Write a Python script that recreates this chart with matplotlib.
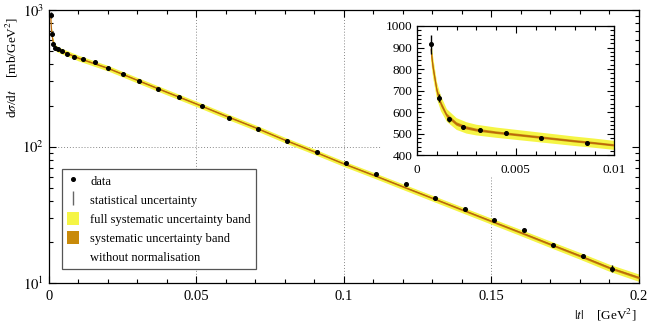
import matplotlib
matplotlib.use("Agg")
from matplotlib import pyplot as plt
from matplotlib.lines import Line2D
from matplotlib.patches import Patch
from matplotlib.ticker import MultipleLocator, FixedLocator, NullFormatter
import numpy as np

plt.rcParams["font.family"] = ["Liberation Serif", "DejaVu Serif"]
plt.rcParams["mathtext.fontset"] = "stix"
plt.rcParams["font.size"] = 9

# measured points: |t| [GeV^2], dsigma/dt [mb/GeV^2], statistical uncertainty
t_data = [0.0007, 0.0011, 0.0016, 0.0023, 0.0032, 0.0045, 0.0063, 0.0086,
          0.0116, 0.0157, 0.0200, 0.0251, 0.0306, 0.0369, 0.0442, 0.0521,
          0.0611, 0.0710, 0.0809, 0.0908, 0.1008, 0.1108, 0.1209, 0.1309,
          0.1409, 0.1508, 0.1609, 0.1710, 0.1810, 0.1909]
xs_data = [915, 667, 567, 531, 517, 503, 480, 456,
           440, 414, 376, 338, 304, 265, 232, 199,
           163, 134, 110, 91.8, 75.5, 62.8, 53.3, 42.1,
           35.0, 28.9, 24.5, 19.1, 15.9, 12.8]
stat_err = [45, 18, 12, 10, 8, 7, 7, 7,
            6, 5, 5, 4, 4, 3, 3, 2.5,
            2, 1.8, 1.5, 1.2, 1.0, 0.9, 0.8, 0.7,
            0.6, 0.5, 0.5, 0.5, 0.6, 0.75]

# fitted curve, with relative band half-widths
t_fit = [0.0007, 0.0008, 0.0010, 0.0012, 0.0015, 0.0020, 0.0025,
         0.0030, 0.0040, 0.0050, 0.0060, 0.0070, 0.0080, 0.0090, 0.0100,
         0.0200, 0.0300, 0.0400, 0.0500, 0.0600, 0.0700, 0.0800, 0.0900,
         0.1000, 0.1100, 0.1200, 0.1300, 0.1400, 0.1500, 0.1600, 0.1700,
         0.1800, 0.1900, 0.2000]
xs_fit = [890, 810, 700, 640, 585, 545, 527,
          517, 505, 495, 485, 475, 465, 456, 446,
          376, 307, 251, 206, 168, 138, 112, 92,
          75, 62, 51, 42, 34.6, 28.5, 23.5, 19.3,
          15.9, 13.0, 11.0]
full_sys = [0.06, 0.06, 0.055, 0.055, 0.05, 0.05, 0.05,
            0.048, 0.047, 0.047, 0.047, 0.047, 0.047, 0.047, 0.047,
            0.046, 0.046, 0.046, 0.046, 0.046, 0.046, 0.046, 0.046,
            0.046, 0.047, 0.048, 0.049, 0.05, 0.051, 0.053, 0.055,
            0.057, 0.059, 0.062]
sys_nonorm = [0.03, 0.025, 0.02, 0.018, 0.016, 0.015, 0.014,
              0.013, 0.012, 0.012, 0.012, 0.012, 0.012, 0.012, 0.012,
              0.012, 0.012, 0.012, 0.012, 0.012, 0.012, 0.012, 0.012,
              0.012, 0.013, 0.013, 0.014, 0.015, 0.016, 0.017, 0.018,
              0.019, 0.02, 0.021]

yellow = "#f5f545"
orange = "#c88a0a"
line_col = "#b8620e"

t_fit = np.array(t_fit)
xs_fit = np.array(xs_fit)
full_sys = np.array(full_sys)
sys_nonorm = np.array(sys_nonorm)


def draw(ax):
    ax.fill_between(t_fit, xs_fit * (1 - full_sys), xs_fit * (1 + full_sys),
                    color=yellow, lw=0, zorder=2)
    ax.fill_between(t_fit, xs_fit * (1 - sys_nonorm), xs_fit * (1 + sys_nonorm),
                    color=orange, lw=0, zorder=3)
    ax.plot(t_fit, xs_fit, color=line_col, lw=0.8, zorder=4)
    ax.errorbar(t_data, xs_data, yerr=stat_err, fmt="o", color="black",
                ms=2.6, elinewidth=1.0, capsize=0, zorder=5)


def style(ax, size):
    ax.tick_params(which="both", direction="in", top=True, right=True,
                   labelsize=size)
    ax.tick_params(which="major", length=5, width=0.8)
    ax.tick_params(which="minor", length=3, width=0.8)
    for s in ax.spines.values():
        s.set_linewidth(0.9)


fig = plt.figure(figsize=(6.49, 3.24), dpi=100)
ax = fig.add_axes([0.075, 0.1256, 0.9096, 0.8434])
draw(ax)
ax.set_yscale("log")
ax.set_xlim(0, 0.2)
ax.set_ylim(10, 1000)
ax.xaxis.set_major_locator(FixedLocator([0, 0.05, 0.1, 0.15, 0.2]))
ax.xaxis.set_minor_locator(MultipleLocator(0.01))
ax.set_xticklabels(["0", "0.05", "0.1", "0.15", "0.2"])
ax.set_yticks([10, 100, 1000])
ax.set_yticklabels([r"$10^1$", r"$10^2$", r"$10^3$"])
ax.yaxis.set_minor_formatter(NullFormatter())
style(ax, 10.5)
ax.tick_params(axis="x", pad=5)

# dotted guide lines
gk = dict(color="#888888", lw=0.7, ls=(0, (1, 2)), zorder=1)
ax.axvline(0.05, **gk)
ax.axvline(0.1, **gk)
ax.axvline(0.15, ymax=0.393, **gk)
ax.axhline(100, xmax=0.561, **gk)

ax.set_ylabel(r"d$\sigma$/d$t$    [mb/GeV$^2$]", fontsize=9.5)
ax.yaxis.set_label_coords(-0.049, 0.79)
ax.set_xlabel(r"$|t|$    [GeV$^2$]", loc="right", fontsize=9.5)
ax.xaxis.set_label_coords(0.995, -0.085)

handles = [
    Line2D([], [], marker="o", color="black", ls="none", ms=2.6),
    Line2D([], [], marker="|", color="#666666", ls="none", ms=10, mew=1.0),
    Patch(facecolor=yellow, edgecolor="none"),
    Patch(facecolor=orange, edgecolor="none"),
    Patch(facecolor="none", edgecolor="none"),
]
labels = ["data", "statistical uncertainty", "full systematic uncertainty band",
          "systematic uncertainty band", "without normalisation"]
leg = ax.legend(handles, labels, loc="lower left", bbox_to_anchor=(0.023, 0.054),
                fontsize=9, fancybox=False, framealpha=1, edgecolor="#555555",
                handlelength=0.95, handleheight=1.3, labelspacing=0.4,
                borderpad=0.4, handletextpad=0.9, borderaxespad=0)
leg.get_frame().set_linewidth(0.9)

# inset zoom on small |t|
axin = fig.add_axes([0.643, 0.5207, 0.3036, 0.3991])
draw(axin)
axin.set_xlim(0, 0.01)
axin.set_ylim(400, 1000)
axin.xaxis.set_major_locator(FixedLocator([0, 0.005, 0.01]))
axin.set_xticklabels(["0", "0.005", "0.01"])
axin.xaxis.set_minor_locator(MultipleLocator(0.001))
axin.yaxis.set_major_locator(MultipleLocator(100))
axin.yaxis.set_minor_locator(MultipleLocator(20))
style(axin, 9.5)
axin.tick_params(axis="x", pad=6)

fig.savefig("out.png", dpi=100)
